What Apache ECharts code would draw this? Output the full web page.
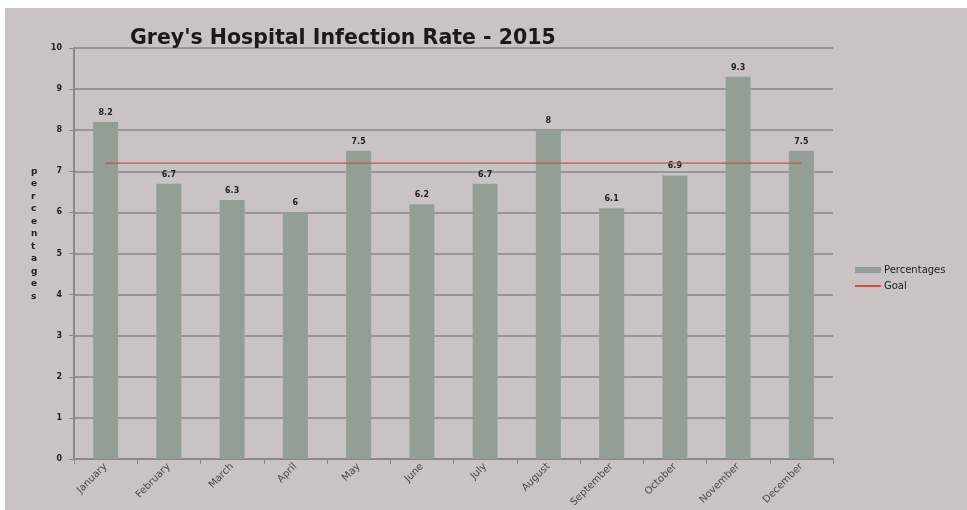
<!DOCTYPE html>
<html>
<head>
<meta charset="utf-8">
<script src="https://cdn.jsdelivr.net/npm/echarts@6/dist/echarts.min.js"></script>
<style>
  html, body { margin: 0; padding: 0; background: #ffffff; }
  #chart { position: absolute; left: 5px; top: 8px; width: 962px; height: 502px; }
</style>
</head>
<body>
<div id="chart"></div>
<script>
const months = ['January', 'February', 'March', 'April', 'May', 'June', 'July',
  'August', 'September', 'October', 'November', 'December']
const percentages = [8.2, 6.7, 6.3, 6, 7.5, 6.2, 6.7, 8, 6.1, 6.9, 9.3, 7.5]
const goal = [7.2, 7.2, 7.2, 7.2, 7.2, 7.2, 7.2, 7.2, 7.2, 7.2, 7.2, 7.2]

let myChart = echarts.init(document.getElementById('chart'))

const font = 'DejaVu Sans'
const legendText = {fontFamily: font, fontSize: 10, color: '#222', padding: [0, 0, 0, -2]}

let option = {
  backgroundColor: '#c9c3c4',
  animation: false,
  title: {
    text: "Grey's Hospital Infection Rate - 2015",
    left: 120,
    top: 15,
    textStyle: {fontFamily: font, fontWeight: 'bold', fontSize: 20.5, color: '#1a1a1a'}
  },
  // vertical axis title, one letter per line as in the original
  graphic: [{
    type: 'text',
    left: 26,
    top: 157,
    style: {
      text: 'p\ne\nr\nc\ne\nn\nt\na\ng\ne\ns',
      font: 'bold 9px "DejaVu Sans"',
      fill: '#222',
      lineHeight: 12.5,
      align: 'center'
    }
  }],
  legend: [
    {
      left: 845,
      top: 252,
      itemWidth: 26,
      itemHeight: 6,
      textStyle: legendText,
      data: [{name: 'Percentages', icon: 'rect'}]
    },
    {
      left: 845,
      top: 268,
      itemWidth: 26,
      itemHeight: 2,
      textStyle: legendText,
      data: [{name: 'Goal', icon: 'rect'}]
    }
  ],
  grid: {left: 69, right: 134, top: 40, bottom: 51},
  xAxis: {
    type: 'category',
    data: months,
    axisLine: {lineStyle: {color: '#8a8787', width: 2}},
    axisTick: {show: true, lineStyle: {color: '#8a8787'}},
    axisLabel: {rotate: 45, fontFamily: font, fontSize: 10, color: '#4a4a4a', margin: 6}
  },
  yAxis: {
    type: 'value',
    min: 0,
    max: 10,
    interval: 1,
    axisLine: {show: true, lineStyle: {color: '#8a8787', width: 2}},
    axisTick: {show: true, length: 5, lineStyle: {color: '#8a8787'}},
    axisLabel: {fontFamily: font, fontSize: 8, fontWeight: 'bold', color: '#222', margin: 12},
    splitLine: {lineStyle: {color: '#8a8787', width: 1.5}}
  },
  series: [
    {
      name: 'Percentages',
      type: 'bar',
      data: percentages,
      barWidth: 25,
      itemStyle: {color: '#939f95'},
      label: {show: true, position: 'top', fontFamily: font, fontSize: 8, fontWeight: 'bold', color: '#222', distance: 5}
    },
    {
      name: 'Goal',
      type: 'line',
      data: goal,
      symbol: 'none',
      lineStyle: {color: '#cf4f45', width: 1.2},
      itemStyle: {color: '#cf4f45'}
    }
  ]
}
myChart.setOption(option)
</script>
</body>
</html>
